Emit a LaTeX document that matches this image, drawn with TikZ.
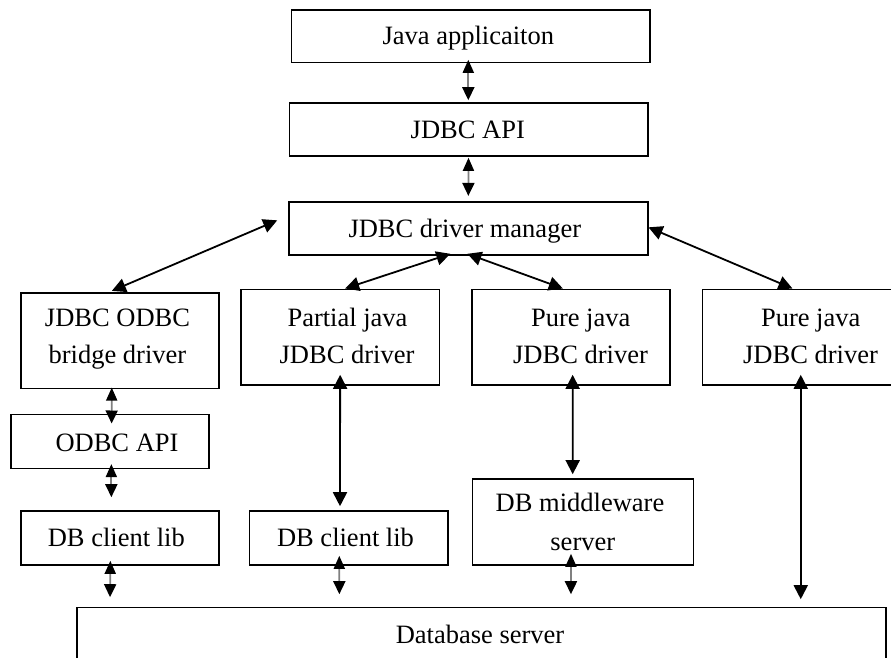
\documentclass[tikz,border=0pt]{standalone}
\usepackage{fontspec}
\setmainfont{Liberation Serif}
\usetikzlibrary{arrows.meta,calc}
\begin{document}
\begin{tikzpicture}[x=1pt,y=-1pt,
  box/.style={draw=black,line width=1.6pt,rectangle,inner sep=0pt},
  txt/.style={inner sep=0pt,anchor=base,font=\fontsize{26.5}{36.5}\selectfont},
  link/.style={line width=1.8pt,{Triangle[width=14pt,length=14pt]}-{Triangle[width=14pt,length=14pt]}},
  stub/.style={line width=1.8pt,draw=black!50,
    {Triangle[width=11pt,length=13pt,color=black]}-{Triangle[width=12pt,length=13pt,color=black]}}]
\useasboundingbox (0,0) rectangle (891,658);
\clip (0,0) rectangle (891,658);

% boxes of the stack
\node[box,minimum width=358.3pt,minimum height=52.7pt] (japp) at (470.8,36.35) {};
\node[box,minimum width=358.4pt,minimum height=52.7pt] (api) at (468.5,129.65) {};
\node[box,minimum width=358.7pt,minimum height=53.3pt] (mgr) at (468.35,228.35) {};
\node[box,minimum width=198.3pt,minimum height=95.6pt] (bridge) at (119.85,340.5) {};
\node[box,minimum width=198.3pt,minimum height=95.7pt] (partial) at (340.15,337.15) {};
\node[box,minimum width=198.3pt,minimum height=95.7pt] (pure1) at (570.85,337.15) {};
\node[box,minimum width=198.3pt,minimum height=95.7pt] (pure2) at (801.45,337.15) {};
\node[box,minimum width=198.3pt,minimum height=54pt] (odbc) at (109.85,441.3) {};
\node[box,minimum width=198.3pt,minimum height=54.3pt] (lib1) at (119.85,537.85) {};
\node[box,minimum width=198.4pt,minimum height=54pt] (lib2) at (348.5,538) {};
\node[box,minimum width=221pt,minimum height=86pt] (mid) at (582.8,522) {};
\node[box,minimum width=809.3pt,minimum height=72.7pt] (db) at (481.35,643.65) {};

% labels
\node[txt] (t-japp) at (468.3,45) {Java applicaiton};
\node[txt] (t-api) at (467.8,138.3) {JDBC API};
\node[txt] (t-mgr) at (464.8,237.3) {JDBC driver manager};
\node[txt] (t-bridge1) at (117.5,326.7) {JDBC ODBC};
\node[txt] (t-bridge2) at (117.4,363.3) {bridge driver};
\node[txt] (t-partial1) at (347.5,326.7) {Partial java};
\node[txt] (t-partial2) at (347,363.3) {JDBC driver};
\node[txt] (t-pure1a) at (580.7,326.7) {Pure java};
\node[txt] (t-pure1b) at (580.5,363.3) {JDBC driver};
\node[txt] (t-pure2a) at (810.7,326.7) {Pure java};
\node[txt] (t-pure2b) at (810.5,363.3) {JDBC driver};
\node[txt] (t-odbc) at (117,451.7) {ODBC API};
\node[txt] (t-lib1) at (116.3,546.7) {DB client lib};
\node[txt] (t-lib2) at (345.5,546.7) {DB client lib};
\node[txt] (t-mid1) at (580,511.7) {DB middleware};
\node[txt] (t-mid2) at (582.8,550) {server};
\node[txt] (t-db) at (480,643.3) {Database server};

% short links down the stack
\draw[stub] ($(japp.south)+(-2.5,-3.7)$) -- ($(api.north)+(-0.2,-2.3)$);
\draw[stub] ($(api.south)+(0,1)$) -- ($(mgr.north)+(0,-5)$);

% manager to the four drivers
\draw[link] ($(mgr.west)+(-11,-8)$) -- ($(bridge.north)+(-8,-1)$);
\draw[link] ($(mgr.south)+(-18,-2)$) -- ($(partial.north)+(5,0)$);
\draw[link] ($(mgr.south)+(-1,-2)$) -- ($(pure1.north)+(-8,0)$);
\draw[link] ($(mgr.east)+(0,-1)$) -- ($(pure2.north)+(-9,0)$);

% bridge driver path
\draw[stub] ($(bridge.south)+(-8.1,-1.5)$) -- ($(odbc.north)+(1.8,10)$);
\draw[stub] ($(odbc.south)+(1.5,-5)$) -- ($(lib1.north)+(-8.5,-12.7)$);
\draw[stub] ($(lib1.south)+(-9.5,-5)$) -- ($(db.north)+(-371.3,-9.3)$);

% partial java path
\draw[link] ($(partial.south)+(0,-11)$) -- ($(lib2.north)+(-8.5,-4)$);
\draw[stub] ($(lib2.south)+(-9.2,-10)$) -- ($(db.north)+(-142,-12.3)$);

% pure java via middleware
\draw[link] ($(pure1.south)+(1.8,-11)$) -- ($(mid.north)+(-10.1,-4)$);
\draw[stub] ($(mid.south)+(-11.8,-12)$) -- ($(db.north)+(89.6,-12.3)$);

% pure java straight to the server
\draw[link] ($(pure2.south)+(-0.7,-11)$) -- ($(db.north)+(319.4,-7.3)$);
\end{tikzpicture}
\end{document}
